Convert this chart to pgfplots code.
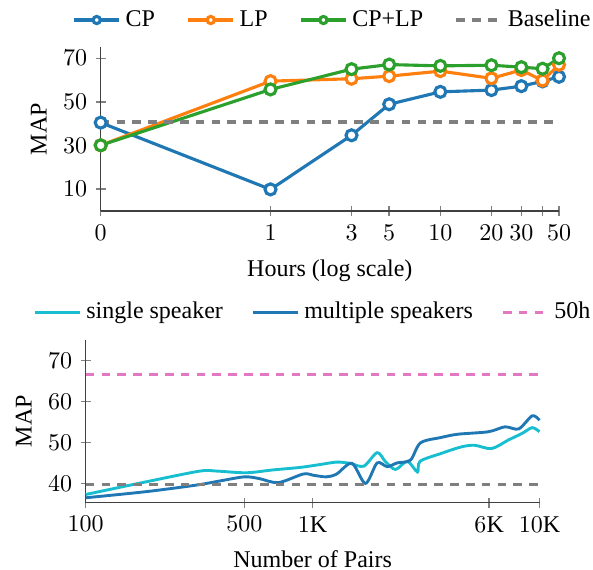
\documentclass[border=0pt]{standalone}
\usepackage{fontspec}
\setmainfont{Liberation Serif}
\usepackage{pgfplots}
\pgfplotsset{compat=1.18}
\definecolor{cCP}{HTML}{1F77B4}
\definecolor{cLP}{HTML}{FF7F0E}
\definecolor{cBoth}{HTML}{2CA02C}
\definecolor{cGray}{HTML}{7F7F7F}
\definecolor{cSingle}{HTML}{17BECF}
\definecolor{cMulti}{HTML}{1F77B4}
\definecolor{cPink}{HTML}{E377C2}
\pgfplotsset{common/.style={
  scale only axis,
  axis lines=left,
  axis line style={-, black!75, line width=0.6pt},
  tick style={gray, line width=0.6pt},
  major tick length=4.3pt,
  xminorticks=false, yminorticks=false,
  clip=false,
  every axis x label/.style={at={([yshift=-27.1pt]axis description cs:0.5,0)}, anchor=base},
  every axis y label/.style={at={([xshift=-25.8pt]axis description cs:0,0.5)}, anchor=center, rotate=90},
  legend style={draw=none, fill=none, legend columns=-1, anchor=center},
  legend image code/.code={\draw[mark repeat=2,mark phase=2,##1] plot coordinates {(0cm,0cm)(0.33cm,0cm)(0.66cm,0cm)};},
}}
\tikzset{mydash/.style={line width=1.3pt, dash pattern=on 3.6pt off 3pt}}
\begin{document}
\begin{tikzpicture}
\useasboundingbox (0,0) rectangle (247.08pt,237.5pt);
\begin{axis}[common,
  at={(41.96pt,149.58pt)}, anchor=south west,
  width=190.96pt, height=68.2pt,
  xmode=log, xmin=0.1, xmax=50, ymin=0, ymax=75,
  xtick={0.1,1,3,5,10,20,30,40,50},
  xticklabels={$0$,$1$,$3$,$5$,$10$,$20$,$30$,,$50$},
  ytick={10,30,50,70},
  xlabel={Hours (log scale)}, ylabel={MAP},
  legend style={at={(axis description cs:0.509,1.1668)},
    /tikz/every even column/.append style={column sep=11.2pt}},
  legend image post style={mark size=1.5pt},
]
\addplot[color=cCP, line width=1.3pt, mark=*, mark size=2.3pt, mark options={fill=white, solid}] coordinates {(0.1,40.5)(1,9.9)(3,34.7)(5,48.9)(10,54.6)(20,55.4)(30,57.2)(40,59.4)(50,61.5)};
\addlegendentry{CP}
\addplot[color=cLP, line width=1.3pt, mark=*, mark size=2.3pt, mark options={fill=white, solid}] coordinates {(0.1,30.1)(1,59.5)(3,60.6)(5,61.8)(10,64.1)(20,60.8)(30,64.6)(40,59.8)(50,67.0)};
\addlegendentry{LP}
\addplot[color=cBoth, line width=1.3pt, mark=*, mark size=2.3pt, mark options={fill=white, solid}] coordinates {(0.1,30.1)(1,55.7)(3,65.0)(5,67.1)(10,66.5)(20,66.8)(30,65.9)(40,65.2)(50,70.0)};
\addlegendentry{CP+LP}
\addplot[color=cGray, mydash, mark=none] coordinates {(0.1,40.8)(50,40.8)};
\addlegendentry{Baseline}
\end{axis}
\begin{axis}[common,
  at={(35.71pt,28.04pt)}, anchor=south west,
  width=189.08pt, height=67.83pt,
  xmode=log, xmin=100, xmax=10000, ymin=35.3, ymax=75,
  xtick={100,500,1000,6000,10000},
  xticklabels={$100$,$500$,$1\mathrm{K}$,$6\mathrm{K}$,$10\mathrm{K}$},
  ytick={40,50,60,70},
  xlabel={Number of Pairs}, ylabel={MAP},
  legend style={at={(axis description cs:0.504,1.1695)},
    /tikz/every even column/.append style={column sep=9.9pt}},
]
\addplot[color=cSingle, line width=1.2pt, mark=none, smooth, tension=0.5] coordinates {(100,37.3)(185,40.4)(318,43.0)(380,43.0)(511,42.6)(670,43.3)(880,43.9)(1077,44.6)(1277,45.2)(1464,44.9)(1680,44.2)(1925,47.5)(2096,45.3)(2320,43.4)(2615,45.4)(2897,42.8)(2977,45.4)(3680,47.3)(4520,48.9)(5180,49.3)(6150,48.5)(7300,50.6)(8380,52.2)(9290,53.6)(10000,52.6)};
\addlegendentry{single speaker}
\addplot[color=cMulti, line width=1.2pt, mark=none, smooth, tension=0.5] coordinates {(100,36.5)(185,38.0)(308,39.6)(390,40.6)(500,41.6)(580,41.2)(706,40.2)(910,42.3)(1005,42.0)(1150,41.6)(1277,42.3)(1490,44.9)(1710,40.0)(1925,45.0)(2130,44.1)(2360,45.0)(2700,45.7)(2990,49.9)(3680,51.2)(4370,52.0)(5950,52.6)(7050,53.8)(8100,53.3)(9290,56.5)(10000,55.4)};
\addlegendentry{multiple speakers}
\addplot[color=cPink, mydash, mark=none] coordinates {(100,66.65)(10000,66.65)};
\addlegendentry{50h}
\addplot[color=cGray, mydash, mark=none, forget plot] coordinates {(100,39.7)(10000,39.7)};
\end{axis}
\end{tikzpicture}
\end{document}
